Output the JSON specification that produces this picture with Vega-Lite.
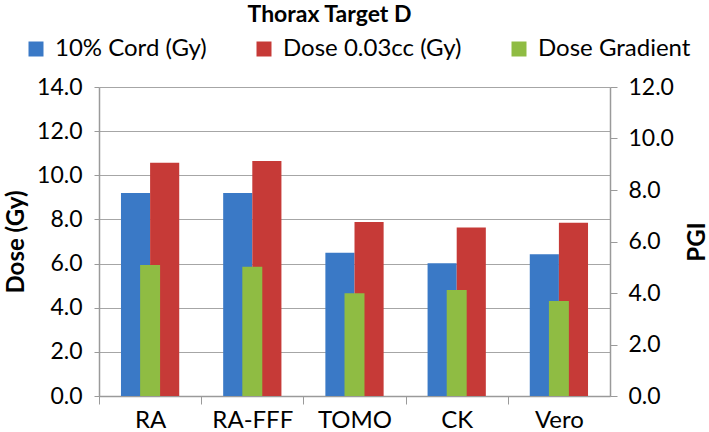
{
  "$schema": "https://vega.github.io/schema/vega-lite/v6.json",
  "width": 511,
  "height": 309,
  "autosize": "none",
  "padding": {"left": 99, "top": 87, "right": 99, "bottom": 36},
  "background": "white",
  "config": {
    "font": "Lato",
    "view": {"stroke": null},
    "axis": {"labelFont": "Lato", "titleFont": "Lato", "labelColor": "black", "titleColor": "black", "domainColor": "#9a9a9a", "tickColor": "#9a9a9a", "gridColor": "#a6a6a6"}
  },
  "title": {"text": "Thorax Target D", "font": "Lato", "fontSize": 23, "fontWeight": "bold", "color": "black", "anchor": "middle", "dx": -25, "frame": "group", "offset": 10},
  "data": {
    "values": [
      {"cat": "RA", "series": "10% Cord (Gy)", "value": 9.2},
      {"cat": "RA", "series": "Dose 0.03cc (Gy)", "value": 10.57},
      {"cat": "RA", "series": "Dose Gradient", "value": 5.09},
      {"cat": "RA-FFF", "series": "10% Cord (Gy)", "value": 9.2},
      {"cat": "RA-FFF", "series": "Dose 0.03cc (Gy)", "value": 10.65},
      {"cat": "RA-FFF", "series": "Dose Gradient", "value": 5.02},
      {"cat": "TOMO", "series": "10% Cord (Gy)", "value": 6.49},
      {"cat": "TOMO", "series": "Dose 0.03cc (Gy)", "value": 7.88},
      {"cat": "TOMO", "series": "Dose Gradient", "value": 3.99},
      {"cat": "CK", "series": "10% Cord (Gy)", "value": 6.01},
      {"cat": "CK", "series": "Dose 0.03cc (Gy)", "value": 7.63},
      {"cat": "CK", "series": "Dose Gradient", "value": 4.12},
      {"cat": "Vero", "series": "10% Cord (Gy)", "value": 6.42},
      {"cat": "Vero", "series": "Dose 0.03cc (Gy)", "value": 7.85},
      {"cat": "Vero", "series": "Dose Gradient", "value": 3.69}
    ]
  },
  "encoding": {
    "x": {
      "field": "cat", "type": "nominal", "sort": ["RA", "RA-FFF", "TOMO", "CK", "Vero"],
      "scale": {"paddingInner": 0.43, "paddingOuter": 0.215},
      "axis": {"title": null, "labelAngle": 0, "labelFontSize": 24, "tickSize": 8, "tickOffset": -51.1, "labelOffset": 51.1, "labelPadding": 4, "domainWidth": 1.5}
    }
  },
  "layer": [
    {
      "transform": [{"filter": "datum.series != 'Dose Gradient'"}],
      "mark": {"type": "bar"},
      "encoding": {
        "xOffset": {"field": "series", "type": "nominal", "sort": ["10% Cord (Gy)", "Dose 0.03cc (Gy)"], "scale": {"paddingInner": 0}},
        "y": {
          "field": "value", "type": "quantitative",
          "scale": {"domain": [0, 14]},
          "axis": {"title": "Dose (Gy)", "titleFontSize": 24, "titleFontWeight": "bold", "labelFontSize": 23, "format": ".1f", "values": [0, 2, 4, 6, 8, 10, 12, 14], "tickSize": 5, "labelPadding": 12, "titlePadding": 8, "grid": true, "domainWidth": 1.5}
        },
        "color": {
          "field": "series", "type": "nominal",
          "scale": {"domain": ["10% Cord (Gy)", "Dose 0.03cc (Gy)", "Dose Gradient"], "range": ["#3a79c6", "#c63a37", "#8fbc43"]},
          "legend": {"orient": "none", "direction": "horizontal", "legendX": -75, "legendY": -50, "title": null, "symbolType": "square", "symbolSize": 225, "symbolStrokeWidth": 0, "labelFontSize": 24, "labelLimit": 400, "labelFont": "Lato", "labelColor": "black", "columnPadding": 45, "labelOffset": 7}
        }
      }
    },
    {
      "transform": [{"filter": "datum.series == 'Dose Gradient'"}],
      "mark": {"type": "bar", "width": {"band": 0.343}},
      "encoding": {
        "y": {
          "field": "value", "type": "quantitative",
          "scale": {"domain": [0, 12]},
          "axis": {"orient": "right", "title": "PGI", "titleFontSize": 24, "titleFontWeight": "bold", "titleAngle": 270, "titleBaseline": "top", "labelFontSize": 23, "format": ".1f", "values": [0, 2, 4, 6, 8, 10, 12], "tickSize": 7, "labelPadding": 11, "titlePadding": 12, "grid": false, "domainWidth": 1.5}
        },
        "color": {
          "field": "series", "type": "nominal",
          "scale": {"domain": ["10% Cord (Gy)", "Dose 0.03cc (Gy)", "Dose Gradient"], "range": ["#3a79c6", "#c63a37", "#8fbc43"]}
        }
      }
    }
  ],
  "resolve": {"scale": {"y": "independent"}}
}
